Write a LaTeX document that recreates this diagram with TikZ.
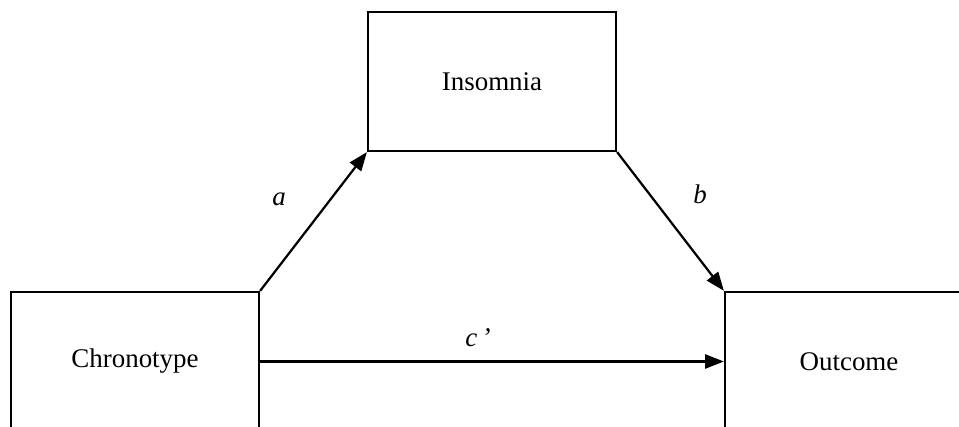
\documentclass[tikz,border=0pt]{standalone}
\usepackage{fontspec}
\setmainfont{Liberation Serif}
\usetikzlibrary{arrows.meta, positioning, calc}

\tikzset{
  varbox/.style={draw, line width=1.9pt, minimum width=7.44cm, minimum height=4.17cm,
    inner sep=0pt, font=\fontsize{23}{28}\selectfont},
  effect/.style={-{Triangle[length=16pt,width=12pt]}, line width=1.9pt},
  coef/.style={font=\itshape\fontsize{23}{28}\selectfont}
}

\begin{document}
\begin{tikzpicture}[x=0.03cm, y=0.03cm]
  % frame of the picture (the lower boxes run off the page)
  \useasboundingbox (0,0) rectangle (959,427);
  \clip (0,0) rectangle (959,427);

  % Variables
  \node[varbox] (insom) at (492,345.5) {Insomnia};
  \node[varbox] (chrono) at (135,65.5) {Chronotype};
  \node[varbox] (outc) at (849,65.5) {Outcome};

  % Paths
  \draw[effect] (chrono.north east) -- (insom.south west);
  \draw[effect] (insom.south east) -- (outc.north west);
  \draw[effect] (chrono.east) -- (outc.west);

  % Path labels
  \node[coef] (lbla) at (279,228) {a};
  \node[coef] (lblb) at (700,233) {b};
  \node[coef] (lblc) at (478,89) {c\,’};
\end{tikzpicture}
\end{document}
